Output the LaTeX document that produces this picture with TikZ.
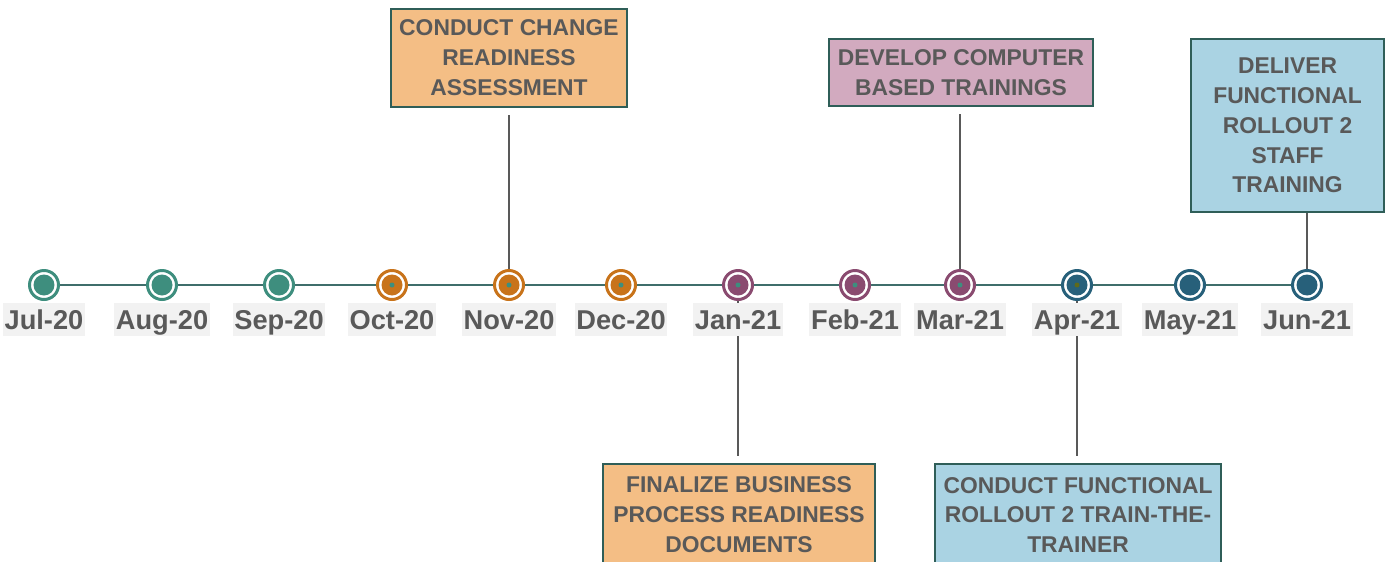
\documentclass[tikz,border=0pt]{standalone}
\usepackage{fontspec}
\setmainfont{Liberation Sans}
\usetikzlibrary{positioning}

\definecolor{tealm}{HTML}{3E8E7E}
\definecolor{orangem}{HTML}{C8731A}
\definecolor{plumm}{HTML}{8A4B70}
\definecolor{navym}{HTML}{27607A}
\definecolor{oliv}{HTML}{5E6A1C}
\definecolor{axisc}{HTML}{3F6E6B}
\definecolor{txt}{HTML}{595959}
\definecolor{boxedge}{HTML}{2F5E58}
\definecolor{peach}{HTML}{F4BE85}
\definecolor{mauve}{HTML}{D2AABF}
\definecolor{skyb}{HTML}{AAD3E3}
\definecolor{labbg}{HTML}{F2F2F2}

\tikzset{
  taskbox/.style={draw=boxedge, line width=1.1pt, inner sep=0pt, align=center,
    text=txt, font=\fontsize{13}{17}\selectfont\bfseries},
  monthlab/.style={fill=labbg, text=txt, inner xsep=1pt, inner ysep=0pt,
    text height=0.54cm, text depth=0.12cm, font=\fontsize{15.5}{17}\selectfont\bfseries},
  link/.style={draw=txt, line width=1pt}
}

\begin{document}
\begin{tikzpicture}[x=0.02cm,y=-0.02cm]
  \useasboundingbox (0,0) rectangle (1388,561);
  \clip (0,0) rectangle (1388,561);

  % month positions
  \foreach \x [count=\i] in {44,162,279,392,509,621,738,855,960,1077,1190,1307}
    \coordinate (m\i) at (\x,285);

  \draw[axisc, line width=1.1pt] (m1) -- (m12);

  % task boxes
  \node[taskbox, fill=peach, minimum width=4.72cm, minimum height=1.96cm] (readiness) at (509,58)
    {CONDUCT CHANGE\\READINESS\\ASSESSMENT};
  \node[taskbox, fill=mauve, minimum width=5.28cm, minimum height=1.34cm] (cbt) at (961,72.5)
    {DEVELOP COMPUTER\\BASED TRAININGS};
  \node[taskbox, fill=skyb, minimum width=3.86cm, minimum height=3.46cm] (stafftrain) at (1287.5,125.5)
    {DELIVER\\FUNCTIONAL\\ROLLOUT 2\\STAFF\\TRAINING};
  \node[taskbox, fill=peach, anchor=north, minimum width=5.44cm, minimum height=2.04cm] (bizdocs) at (739,463)
    {FINALIZE BUSINESS\\PROCESS READINESS\\DOCUMENTS};
  \node[taskbox, fill=skyb, anchor=north, minimum width=5.72cm, minimum height=2.04cm] (ttt) at (1078,463)
    {CONDUCT FUNCTIONAL\\ROLLOUT 2 TRAIN-THE-\\TRAINER};

  % connectors
  \draw[link, shorten <=0.15cm] (readiness.south -| m5) -- (m5);
  \draw[link, shorten <=0.15cm] (cbt.south -| m9) -- (m9);
  \draw[link] (stafftrain.south -| m12) -- (m12);
  \draw[link, shorten >=0.14cm] (m7) -- (bizdocs.north -| m7);
  \draw[link, shorten >=0.14cm] (m10) -- (ttt.north -| m10);

  % markers and labels
  \foreach \mon/\col/\dot [count=\i] in {Jul-20/tealm/tealm, Aug-20/tealm/tealm, Sep-20/tealm/tealm,
      Oct-20/orangem/tealm, Nov-20/orangem/tealm, Dec-20/orangem/tealm,
      Jan-21/plumm/tealm, Feb-21/plumm/tealm, Mar-21/plumm/tealm,
      Apr-21/navym/oliv, May-21/navym/navym, Jun-21/navym/navym}{
    \draw[\col, line width=1.7pt, fill=white] (m\i) circle (0.29cm);
    \fill[\col] (m\i) circle (0.21cm);
    \fill[\dot] (m\i) circle (0.05cm);
    \node[monthlab] (lab\i) at ([yshift=-0.69cm]m\i) {\mon};
  }
\end{tikzpicture}
\end{document}
